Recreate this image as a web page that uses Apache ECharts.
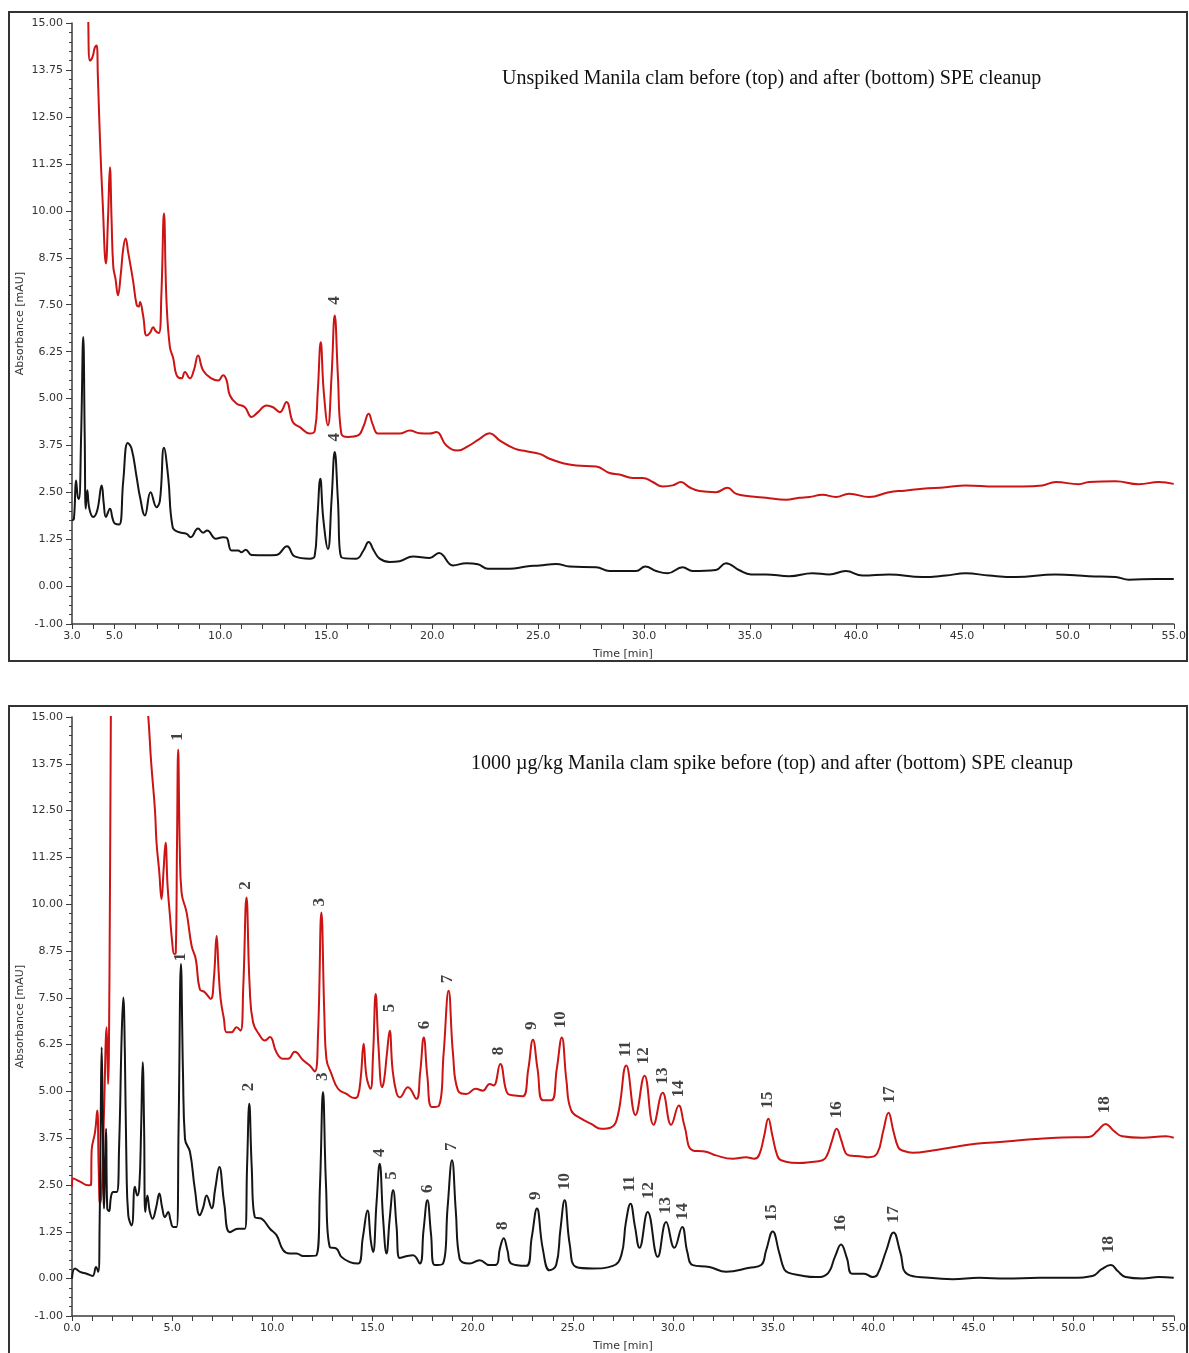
<!DOCTYPE html>
<html>
<head>
<meta charset="utf-8">
<script src="https://cdn.jsdelivr.net/npm/echarts@6/dist/echarts.min.js"></script>
<style>
  html, body { margin: 0; padding: 0; background: #fff; }
  #chart { width: 1189px; height: 1353px; }
</style>
</head>
<body>
<div id="chart"></div>
<script>
// unspiked clam, before (red) and after (black) SPE cleanup: [time min, mAU]
const unspikedBefore = [
  [3.76,15.6],[3.77,15.0],[3.85,14.0],[3.97,14.1],[4.08,14.35],[4.16,14.4],[4.22,13.6],[4.32,11.9],[4.45,10.2],[4.60,8.6],
  [4.70,9.8],[4.79,11.16],[4.87,9.7],[4.95,8.5],[5.05,8.2],[5.17,7.75],[5.30,8.3],[5.42,9.0],[5.53,9.26],[5.65,8.9],
  [5.88,8.15],[6.05,7.5],[6.15,7.45],[6.21,7.57],[6.36,7.2],[6.52,6.68],[6.68,6.75],[6.83,6.9],[6.95,6.8],[7.10,6.75],
  [7.22,7.8],[7.34,9.93],[7.46,7.6],[7.62,6.37],[7.78,6.07],[7.94,5.62],[8.17,5.54],[8.33,5.71],[8.56,5.54],[8.75,5.75],
  [8.95,6.15],[9.19,5.75],[9.58,5.54],[9.90,5.48],[10.13,5.62],[10.29,5.5],[10.45,5.09],[10.76,4.87],[11.16,4.77],[11.47,4.51],
  [11.78,4.64],[12.18,4.82],[12.49,4.77],[12.81,4.64],[13.12,4.91],[13.43,4.37],[13.75,4.24],[14.22,4.07],[14.46,4.15],[14.60,5.2],
  [14.74,6.50],[14.88,5.2],[15.08,4.29],[15.25,5.6],[15.40,7.21],[15.55,5.6],[15.71,4.07],[16.03,3.98],[16.50,4.02],[16.75,4.25],
  [17.0,4.60],[17.2,4.3],[17.44,4.07],[17.84,4.07],[18.46,4.07],[18.94,4.15],[19.41,4.08],[19.88,4.07],[20.20,4.11],[20.67,3.75],
  [21.21,3.62],[21.68,3.73],[22.24,3.93],[22.71,4.08],[23.18,3.89],[23.89,3.67],[24.44,3.60],[25.07,3.53],[25.54,3.40],[26.17,3.28],
  [26.80,3.22],[27.74,3.19],[28.37,3.02],[28.84,2.98],[29.47,2.89],[29.94,2.89],[30.41,2.78],[30.88,2.66],[31.35,2.69],[31.74,2.78],
  [32.14,2.64],[32.61,2.54],[33.39,2.51],[33.94,2.63],[34.33,2.47],[34.97,2.40],[35.75,2.36],[36.70,2.31],[37.32,2.36],[37.80,2.38],
  [38.42,2.44],[39.05,2.38],[39.68,2.47],[40.62,2.38],[41.56,2.51],[42.3,2.55],[43.14,2.60],[44.24,2.64],[45.18,2.69],[46.60,2.66],
  [47.85,2.66],[48.80,2.69],[49.43,2.78],[50.52,2.72],[51.0,2.78],[52.25,2.80],[53.35,2.72],[54.30,2.78],[55.0,2.73]
];
const unspikedAfter = [
  [3.0,1.76],[3.09,1.80],[3.19,2.82],[3.27,2.4],[3.33,2.33],[3.43,4.0],[3.53,6.64],[3.60,4.0],[3.65,2.07],[3.72,2.56],
  [3.82,2.07],[4.0,1.85],[4.19,2.02],[4.40,2.69],[4.50,2.2],[4.60,1.85],[4.79,2.07],[4.92,1.8],[5.03,1.67],[5.23,1.65],
  [5.42,2.82],[5.63,3.82],[5.81,3.67],[6.05,2.91],[6.21,2.38],[6.44,1.89],[6.71,2.51],[6.99,2.11],[7.15,2.29],[7.34,3.69],
  [7.54,2.91],[7.75,1.58],[8.01,1.45],[8.41,1.40],[8.60,1.31],[8.95,1.54],[9.19,1.43],[9.38,1.49],[9.79,1.27],[10.13,1.31],
  [10.29,1.30],[10.53,0.96],[10.84,0.96],[11.0,0.91],[11.20,0.98],[11.47,0.84],[12.18,0.83],[12.65,0.84],[13.15,1.07],[13.51,0.80],
  [14.22,0.74],[14.45,0.8],[14.58,1.8],[14.72,2.87],[14.86,1.8],[15.08,1.0],[15.25,2.3],[15.40,3.58],[15.55,2.3],[15.71,0.78],
  [16.42,0.74],[16.75,0.95],[17.0,1.18],[17.25,0.95],[17.52,0.74],[17.99,0.65],[18.46,0.67],[19.09,0.80],[19.88,0.76],[20.32,0.89],
  [20.98,0.56],[21.61,0.62],[22.16,0.59],[22.63,0.47],[23.65,0.47],[24.44,0.53],[25.07,0.56],[25.85,0.60],[26.48,0.53],[27.74,0.51],
  [28.37,0.41],[29.62,0.41],[30.06,0.53],[30.57,0.41],[31.11,0.35],[31.82,0.51],[32.29,0.41],[33.39,0.44],[33.86,0.62],[34.50,0.43],
  [35.05,0.32],[35.75,0.32],[36.85,0.27],[37.95,0.35],[38.74,0.32],[39.52,0.41],[40.31,0.29],[41.56,0.32],[43.14,0.25],[44.24,0.29],
  [45.18,0.35],[46.28,0.29],[47.53,0.25],[49.43,0.32],[51.0,0.27],[52.25,0.25],[52.88,0.18],[54.14,0.20],[55.0,0.20]
];

// 1000 ug/kg spike, before (red) and after (black) SPE cleanup
const spikeBefore = [
  [0.0,2.45],[0.07,2.67],[0.40,2.59],[0.81,2.49],[0.95,2.5],[0.98,3.42],[1.15,3.91],[1.26,4.49],[1.33,3.0],[1.40,2.0],
  [1.50,2.5],[1.60,4.5],[1.73,6.71],[1.80,5.2],[1.87,8],[1.93,14],[1.98,16.5],[2.5,18],[3.5,17],[3.81,15.0],
  [3.95,13.8],[4.14,12.53],[4.22,11.64],[4.35,10.9],[4.47,10.13],[4.57,10.9],[4.67,11.64],[4.77,10.5],[4.89,9.69],[5.0,9.0],
  [5.10,8.67],[5.18,8.7],[5.24,11.5],[5.30,14.13],[5.38,11.5],[5.47,10.31],[5.72,9.78],[5.97,8.89],[6.18,8.53],[6.38,7.73],
  [6.63,7.65],[6.92,7.47],[7.08,8.0],[7.22,9.15],[7.32,8.2],[7.42,7.47],[7.58,6.95],[7.72,6.58],[7.96,6.58],[8.21,6.71],
  [8.41,6.62],[8.55,7.8],[8.71,10.18],[8.87,7.8],[9.04,6.84],[9.38,6.49],[9.63,6.36],[9.88,6.45],[10.21,6.04],[10.54,5.87],
  [10.79,5.87],[11.12,6.06],[11.54,5.83],[11.87,5.69],[12.12,5.53],[12.28,6.5],[12.45,9.78],[12.60,7.0],[12.70,5.87],[12.95,5.47],
  [13.28,5.07],[13.70,4.93],[14.11,4.82],[14.28,4.89],[14.42,5.4],[14.56,6.27],[14.70,5.4],[14.90,5.07],[15.03,6.0],[15.16,7.6],
  [15.30,6.2],[15.48,5.11],[15.58,5.3],[15.72,6.0],[15.86,6.62],[16.0,5.6],[16.19,4.98],[16.36,4.84],[16.77,5.11],[17.19,4.80],
  [17.38,5.5],[17.56,6.44],[17.74,5.4],[17.97,4.58],[18.32,4.62],[18.55,6.0],[18.80,7.69],[19.02,6.0],[19.27,5.02],[19.69,4.93],
  [20.15,5.07],[20.51,5.02],[20.85,5.20],[21.05,5.16],[21.38,5.73],[21.76,4.93],[22.10,4.89],[22.51,4.87],[22.78,5.6],[23.01,6.38],
  [23.24,5.6],[23.51,4.76],[23.93,4.76],[24.20,5.6],[24.45,6.44],[24.68,5.3],[24.92,4.49],[25.42,4.27],[25.92,4.13],[26.42,4.0],
  [26.92,4.04],[27.25,4.36],[27.67,5.69],[28.13,4.37],[28.58,5.42],[29.03,4.11],[29.49,4.96],[29.91,4.11],[30.29,4.62],[30.57,4.09],
  [30.99,3.42],[31.65,3.39],[32.15,3.29],[32.98,3.2],[33.65,3.24],[34.06,3.2],[34.3,3.3],[34.55,3.8],[34.76,4.27],[34.97,3.8],
  [35.2,3.3],[35.40,3.16],[36.31,3.09],[36.81,3.11],[37.47,3.16],[37.7,3.3],[37.95,3.7],[38.17,4.0],[38.4,3.7],[38.62,3.35],
  [38.80,3.29],[39.30,3.27],[39.80,3.24],[40.2,3.35],[40.5,3.95],[40.76,4.43],[41.0,3.95],[41.25,3.5],[41.46,3.42],[41.96,3.36],
  [42.96,3.42],[43.96,3.51],[45.12,3.60],[46.62,3.66],[48.12,3.73],[49.44,3.77],[50.77,3.78],[51.20,3.95],[51.60,4.13],[52.0,3.95],
  [52.43,3.80],[53.43,3.76],[54.60,3.80],[55.0,3.76]
];
const spikeAfter = [
  [0.0,0.0],[0.15,0.27],[0.40,0.18],[0.73,0.13],[1.03,0.07],[1.20,0.31],[1.31,0.18],[1.38,1.5],[1.43,4],[1.48,6.18],
  [1.54,4],[1.60,1.87],[1.65,3.0],[1.70,4.0],[1.76,1.87],[1.85,1.8],[1.95,2.2],[2.06,2.31],[2.23,2.31],[2.35,3.5],
  [2.48,6.5],[2.56,7.51],[2.64,6.0],[2.72,3.0],[2.81,1.69],[2.98,1.42],[3.14,2.45],[3.26,2.22],[3.36,2.45],[3.45,4.0],
  [3.53,5.78],[3.60,4.0],[3.66,1.78],[3.76,2.22],[3.88,1.8],[4.02,1.60],[4.20,1.9],[4.36,2.27],[4.50,1.9],[4.64,1.64],
  [4.80,1.78],[4.92,1.55],[5.05,1.38],[5.22,1.38],[5.32,4.0],[5.44,8.4],[5.54,5.5],[5.64,3.73],[5.89,3.38],[6.13,2.40],
  [6.38,1.69],[6.55,1.9],[6.72,2.22],[6.97,1.88],[7.15,2.4],[7.35,2.98],[7.60,2.0],[7.88,1.24],[8.30,1.33],[8.63,1.33],
  [8.74,3.0],[8.85,4.67],[8.97,3.0],[9.13,1.64],[9.46,1.60],[9.88,1.33],[10.21,1.16],[10.54,0.76],[10.87,0.67],[11.21,0.67],
  [11.54,0.60],[12.20,0.62],[12.38,2.5],[12.53,4.98],[12.68,2.5],[12.87,0.84],[13.20,0.80],[13.45,0.58],[13.87,0.44],[14.28,0.40],
  [14.52,1.1],[14.75,1.82],[14.92,1.0],[15.03,0.71],[15.2,2.0],[15.36,3.07],[15.53,1.6],[15.70,0.67],[15.86,1.6],[16.03,2.36],
  [16.2,1.4],[16.36,0.55],[17.02,0.62],[17.36,0.40],[17.55,1.3],[17.74,2.09],[17.92,1.2],[18.10,0.36],[18.52,0.40],[18.75,1.9],
  [18.97,3.16],[19.16,1.8],[19.35,0.53],[19.85,0.40],[20.35,0.49],[20.85,0.36],[21.18,0.37],[21.36,0.8],[21.55,1.08],[21.74,0.75],
  [21.93,0.40],[22.68,0.34],[22.95,1.1],[23.21,1.87],[23.5,0.8],[23.84,0.22],[24.17,0.36],[24.38,1.3],[24.59,2.09],[24.85,0.9],
  [25.17,0.31],[26.0,0.27],[27.0,0.34],[27.42,0.62],[27.65,1.5],[27.88,2.0],[28.10,1.4],[28.33,0.82],[28.74,1.78],[29.24,0.58],
  [29.66,1.51],[30.07,0.82],[30.46,1.38],[30.72,0.7],[30.99,0.36],[31.82,0.31],[32.65,0.18],[33.82,0.29],[34.40,0.36],[34.65,0.75],
  [34.98,1.26],[35.3,0.7],[35.55,0.25],[35.75,0.16],[36.31,0.09],[37.14,0.04],[37.7,0.12],[38.1,0.6],[38.39,0.91],[38.68,0.55],
  [38.95,0.13],[39.55,0.13],[39.97,0.04],[40.2,0.1],[40.65,0.75],[41.01,1.23],[41.35,0.7],[41.7,0.12],[42.79,0.02],[43.96,-0.02],
  [45.29,0.02],[46.62,0.0],[48.28,0.02],[49.94,0.02],[50.94,0.07],[51.4,0.25],[51.86,0.36],[52.2,0.2],[52.60,0.04],[53.43,0.0],
  [54.26,0.04],[55.0,0.02]
];

// peak numbers: [time, mAU, label]
const unspikedPeaks = [[15.40, 7.61, '4'], [15.40, 3.97, '4']];
const spikeBeforePeaks = [
  [5.29,14.48,'1'],[8.68,10.5,'2'],[12.37,10.05,'3'],[15.86,7.23,'5'],[17.6,6.77,'6'],[18.75,8.0,'7'],
  [21.3,6.08,'8'],[22.94,6.75,'9'],[24.39,6.91,'10'],[27.63,6.13,'11'],[28.53,5.95,'12'],[29.48,5.41,'13'],
  [30.27,5.07,'14'],[34.71,4.77,'15'],[38.15,4.51,'16'],[40.8,4.91,'17'],[51.57,4.64,'18']
];
const spikeAfterPeaks = [
  [5.44,8.59,'1'],[8.83,5.12,'2'],[12.52,5.39,'3'],[15.36,3.36,'4'],[15.96,2.75,'5'],[17.76,2.40,'6'],
  [18.95,3.52,'7'],[21.5,1.41,'8'],[23.14,2.21,'9'],[24.59,2.59,'10'],[27.83,2.53,'11'],[28.78,2.35,'12'],
  [29.63,1.95,'13'],[30.47,1.79,'14'],[34.91,1.76,'15'],[38.35,1.47,'16'],[41.0,1.71,'17'],[51.77,0.91,'18']
];

// tick labels
const yLabels = [-1, 0, 1.25, 2.5, 3.75, 5, 6.25, 7.5, 8.75, 10, 11.25, 12.5, 13.75, 15];
const xLabelsTop = [3, 5, 10, 15, 20, 25, 30, 35, 40, 45, 50, 55];
const xLabelsBottom = [0, 5, 10, 15, 20, 25, 30, 35, 40, 45, 50, 55];

const yMinor = [];
for (let v = -1; v <= 15.001; v += 0.25) yMinor.push(+v.toFixed(2));
const xTicksTop = [];
for (let v = 3; v <= 55; v++) xTicksTop.push(v);
const xTicksBottom = [];
for (let v = 0; v <= 55; v++) xTicksBottom.push(v);

const axisColor = '#3c3c3c';
const labelFont = { fontFamily: 'DejaVu Sans', fontSize: 11, color: '#333' };

function xAxisFor (gridIndex, min, ticks, labels) {
  return {
    gridIndex: gridIndex,
    type: 'value',
    min: min,
    max: 55,
    name: 'Time [min]',
    nameLocation: 'middle',
    nameGap: 25,
    nameMoveOverlap: false,
    nameTextStyle: labelFont,
    axisLine: { onZero: false, lineStyle: { color: axisColor, width: 1.5 } },
    axisTick: { customValues: ticks, length: 5, lineStyle: { color: axisColor } },
    axisLabel: Object.assign({ customValues: labels, margin: 7, formatter: v => v.toFixed(1) }, labelFont),
    splitLine: { show: false }
  }
}
function yAxesFor (gridIndex) {
  return [{
    gridIndex: gridIndex,
    type: 'value',
    min: -1,
    max: 15,
    position: 'left',
    name: 'Absorbance [mAU]',
    nameLocation: 'middle',
    nameGap: 46,
    nameMoveOverlap: false,
    nameTextStyle: labelFont,
    axisLine: { show: true, onZero: false, lineStyle: { color: axisColor, width: 1.5 } },
    axisTick: { customValues: yLabels, length: 6, lineStyle: { color: axisColor } },
    axisLabel: Object.assign({ customValues: yLabels, margin: 9, formatter: v => v.toFixed(2) }, labelFont),
    splitLine: { show: false }
  }, {
    // minor ticks only
    gridIndex: gridIndex,
    type: 'value',
    min: -1,
    max: 15,
    position: 'left',
    axisLine: { show: false },
    axisTick: { customValues: yMinor, length: 3, lineStyle: { color: axisColor } },
    axisLabel: { show: false },
    splitLine: { show: false }
  }]
}
function trace (data, color, xi, yi) {
  return {
    type: 'line',
    data: data,
    xAxisIndex: xi,
    yAxisIndex: yi,
    showSymbol: false,
    symbol: 'none',
    smooth: 0.45,
    clip: true,
    silent: true,
    lineStyle: { color: color, width: 2 },
    z: 3
  }
}
function peakLabels (data, xi, yi) {
  return {
    type: 'scatter',
    data: data,
    xAxisIndex: xi,
    yAxisIndex: yi,
    symbolSize: 0,
    silent: true,
    label: {
      show: true,
      position: 'inside',
      rotate: 90,
      formatter: p => p.data[2],
      fontFamily: 'Liberation Serif',
      fontWeight: 'bold',
      fontSize: 17,
      color: '#111'
    },
    z: 5
  }
}

const red = '#cc1414';
const black = '#151515';

const option = {
  animation: false,
  backgroundColor: '#fff',
  title: [{
    text: 'Unspiked Manila clam before (top) and after (bottom) SPE cleanup',
    left: 497,
    top: 64,
    textStyle: { fontFamily: 'Liberation Serif', fontSize: 20, fontWeight: 'normal', color: '#111' }
  }, {
    text: '1000 µg/kg Manila clam spike before (top) and after (bottom) SPE cleanup',
    left: 466,
    top: 749,
    textStyle: { fontFamily: 'Liberation Serif', fontSize: 20, fontWeight: 'normal', color: '#111' }
  }],
  graphic: [
    { type: 'rect', shape: { x: 9, y: 12, width: 1178, height: 649 }, style: { fill: 'none', stroke: '#333', lineWidth: 2 } },
    { type: 'rect', shape: { x: 9, y: 706, width: 1178, height: 700 }, style: { fill: 'none', stroke: '#333', lineWidth: 2 } }
  ],
  grid: [
    { left: 72, top: 23, width: 1103, height: 601 },
    { left: 72, top: 717, width: 1103, height: 600 }
  ],
  xAxis: [
    xAxisFor(0, 3, xTicksTop, xLabelsTop),
    xAxisFor(1, 0, xTicksBottom, xLabelsBottom)
  ],
  yAxis: yAxesFor(0).concat(yAxesFor(1)),
  series: [
    trace(unspikedBefore, red, 0, 0),
    trace(unspikedAfter, black, 0, 0),
    peakLabels(unspikedPeaks, 0, 0),
    trace(spikeBefore, red, 1, 2),
    trace(spikeAfter, black, 1, 2),
    peakLabels(spikeBeforePeaks, 1, 2),
    peakLabels(spikeAfterPeaks, 1, 2)
  ]
}

const myChart = echarts.init(document.getElementById('chart'))
myChart.setOption(option)
</script>
</body>
</html>
